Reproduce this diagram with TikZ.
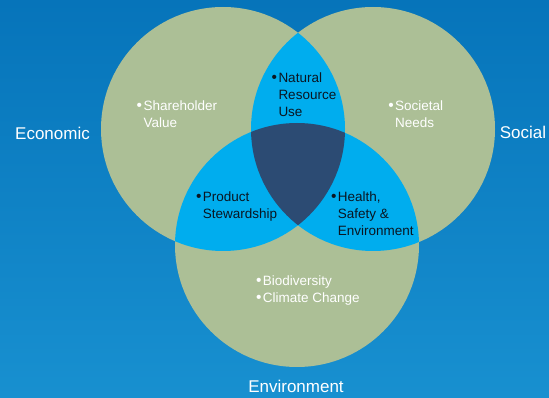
\documentclass[tikz,border=0pt]{standalone}
\usepackage{fontspec}
\setmainfont{Liberation Sans}
\definecolor{bgtop}{RGB}{6,116,186}
\definecolor{bgbot}{RGB}{24,144,208}
\definecolor{sage}{RGB}{172,191,150}
\definecolor{cyanov}{RGB}{0,173,238}
\definecolor{darkov}{RGB}{44,75,115}
\definecolor{txtdark}{RGB}{10,22,34}
\newcommand{\bul}{\llap{{\fontsize{15.5}{17}\selectfont •}\kern1.4pt}}
\begin{document}
\begin{tikzpicture}[x=1pt,y=-1pt,
  outer/.style={text=white,font=\fontsize{17}{20}\selectfont,inner sep=0pt,anchor=center},
  inw/.style={text=white,font=\fontsize{13.5}{17}\selectfont,align=left,inner sep=0pt,anchor=base west},
  inb/.style={text=txtdark,font=\fontsize{13.5}{17}\selectfont,align=left,inner sep=0pt,anchor=base west},
  setfill/.style={fill=sage},
  pairfill/.style={fill=cyanov},
  tripfill/.style={fill=darkov}]
\shade[top color=bgtop,bottom color=bgbot] (0,0) rectangle (549,398);
\useasboundingbox (0,0) rectangle (549,398);
\coordinate (cL) at (223,129);
\coordinate (cR) at (373,129);
\coordinate (cB) at (297,245);
\fill[setfill] (cL) circle[radius=122pt];
\fill[setfill] (cR) circle[radius=122pt];
\fill[setfill] (cB) circle[radius=122pt];
\begin{scope}
  \clip (cL) circle[radius=122pt];
  \fill[pairfill] (cR) circle[radius=122pt];
  \fill[pairfill] (cB) circle[radius=122pt];
\end{scope}
\begin{scope}
  \clip (cR) circle[radius=122pt];
  \fill[pairfill] (cB) circle[radius=122pt];
\end{scope}
\begin{scope}
  \clip (cL) circle[radius=122pt];
  \clip (cR) circle[radius=122pt];
  \fill[tripfill] (cB) circle[radius=122pt];
\end{scope}
\node[outer] (econ) at (52.5,133) {Economic};
\node[outer] (soc) at (523,132) {Social};
\node[outer] (env) at (296,386) {Environment};
\node[inw] (share) at (143.3,128) {\bul Shareholder\\Value};
\node[inb] (nat) at (278.3,116.2) {\bul Natural\\Resource\\Use};
\node[inw] (soc2) at (395,128) {\bul Societal\\Needs};
\node[inb] (prod) at (202.7,218.6) {\bul Product\\Stewardship};
\node[inb] (hse) at (337.7,235.6) {\bul Health,\\Safety \&\\Environment};
\node[inw] (bio) at (262.7,302) {\bul Biodiversity\\\bul Climate Change};
\end{tikzpicture}
\end{document}
